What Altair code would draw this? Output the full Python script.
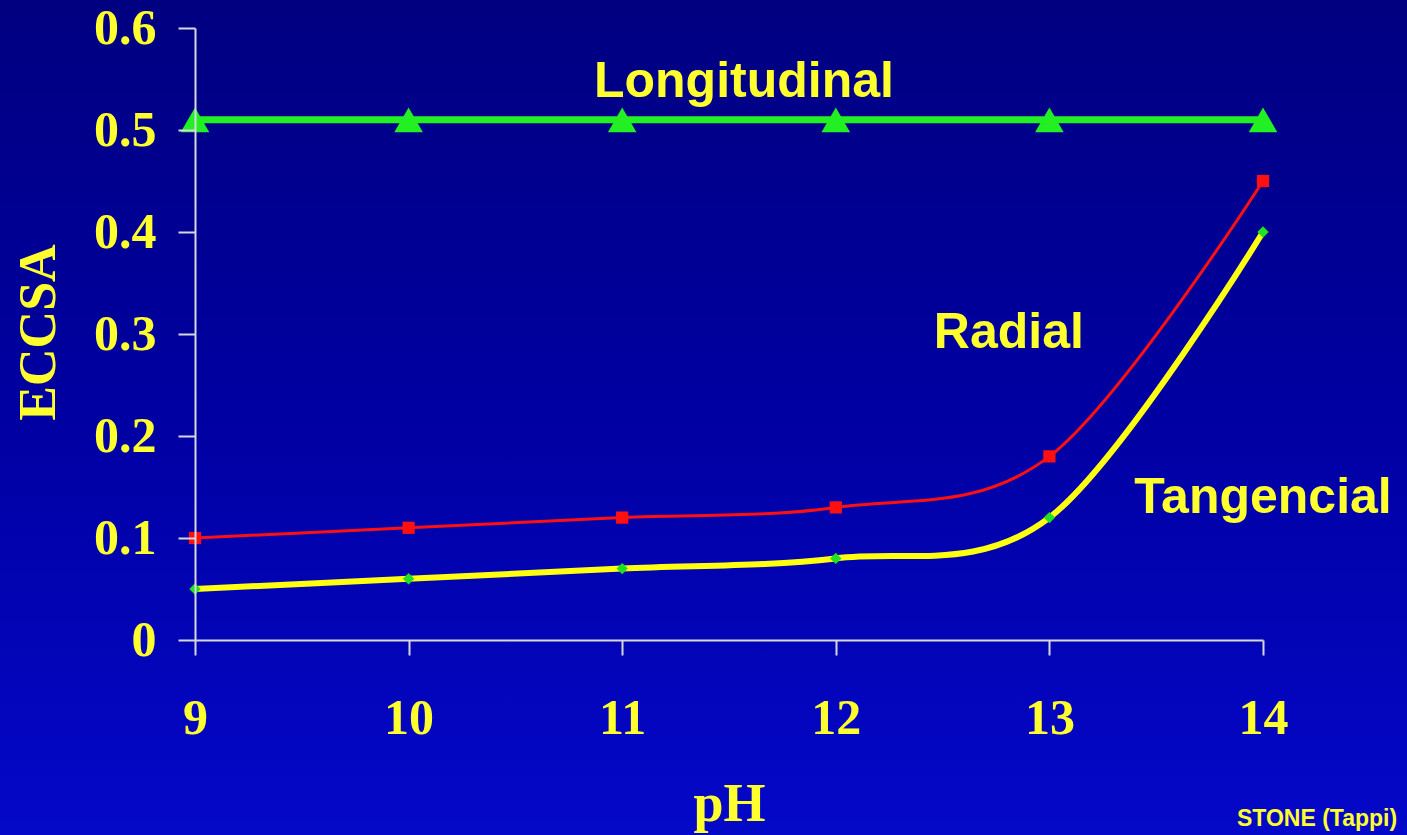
import altair as alt
import pandas as pd

# ---- data ----
ph = [9, 10, 11, 12, 13, 14]
longitudinal = [0.51, 0.51, 0.51, 0.51, 0.51, 0.51]
radial = [0.10, 0.11, 0.12, 0.13, 0.18, 0.45]
tangencial = [0.05, 0.06, 0.07, 0.08, 0.12, 0.40]

label_text = ["Longitudinal", "Radial", "Tangencial"]
label_x = [11.57, 12.81, 14.0]
label_y = [0.532, 0.286, 0.125]

y_ticks = [0, 0.1, 0.2, 0.3, 0.4, 0.5, 0.6]
x_ticks = [9, 10, 11, 12, 13, 14]

YELLOW = "#ffff2e"
AXIS = "#d8d8e0"

df_long = pd.DataFrame({"pH": ph, "v": longitudinal})
df_rad = pd.DataFrame({"pH": ph, "v": radial})
df_tan = pd.DataFrame({"pH": ph, "v": tangencial})
df_lab = pd.DataFrame({"t": label_text, "x": label_x, "y": label_y})
df_one = pd.DataFrame({"a": [0]})

W, H = 1068, 612
PL, PT, PR, PB = 195, 28, 144, 195

xs = alt.Scale(domain=[9, 14], nice=False)
ys = alt.Scale(domain=[0, 0.6], nice=False)

x_axis = alt.Axis(
    values=x_ticks, format="d", labelFlush=False, labelOverlap=False,
    tickSize=15, labelPadding=38, labelFontSize=50,
    labelFont="Liberation Serif", labelFontWeight="bold", labelColor=YELLOW,
    domainColor=AXIS, tickColor=AXIS, domainWidth=2, tickWidth=2, grid=False,
    title="pH", titleFont="Liberation Serif", titleFontWeight="bold",
    titleFontSize=54, titleColor=YELLOW, titleX=W / 2, titleY=792,
    titleBaseline="alphabetic", titleAlign="center", zindex=1,
)
# titleY above is replaced below (relative to axis group)
x_axis = x_axis.to_dict()
x_axis["titleY"] = 820 - PT - H
x_axis = alt.Axis(**x_axis)

y_axis = alt.Axis(
    values=y_ticks, labelFlush=False, labelOverlap=False,
    tickSize=17, labelPadding=22, labelFontSize=50,
    labelFont="Liberation Serif", labelFontWeight="bold", labelColor=YELLOW,
    labelExpr="datum.value == 0 ? '0' : format(datum.value, '.1f')",
    domainColor=AXIS, tickColor=AXIS, domainWidth=2, tickWidth=2, grid=False,
    title="ECCSA", titleFont="Liberation Serif", titleFontWeight="bold",
    titleFontSize=52, titleColor=YELLOW, titleX=-157, titleY=304,
    titleAngle=-90, titleAlign="center", titleBaseline="middle", zindex=1,
)

bg = alt.Chart(df_one).mark_rect(
    fill=alt.Gradient(
        gradient="linear",
        stops=[
            alt.GradientStop(color="#000080", offset=0),
            alt.GradientStop(color="#0000a2", offset=0.5),
            alt.GradientStop(color="#0408c8", offset=1),
        ],
        x1=0, x2=0, y1=0, y2=1,
    )
).encode(
    x=alt.value(-PL), x2=alt.value(W + PR), y=alt.value(-PT), y2=alt.value(H + PB)
)

base_long = alt.Chart(df_long).encode(
    x=alt.X("pH:Q", scale=xs, axis=x_axis),
    y=alt.Y("v:Q", scale=ys, axis=y_axis),
)
long_line = base_long.mark_line(color="#22f022", strokeWidth=7)
long_pts = base_long.mark_point(shape="triangle-up", filled=True, size=820,
                                color="#22f022", opacity=1)

base_rad = alt.Chart(df_rad).encode(x=alt.X("pH:Q", scale=xs), y=alt.Y("v:Q", scale=ys))
rad_line = base_rad.mark_line(color="#ff1010", strokeWidth=3, interpolate="cardinal", tension=0)
rad_pts = base_rad.mark_point(shape="square", filled=True, size=150, color="#ff1010", opacity=1)

base_tan = alt.Chart(df_tan).encode(x=alt.X("pH:Q", scale=xs), y=alt.Y("v:Q", scale=ys))
tan_line = base_tan.mark_line(color="#ffff10", strokeWidth=6, interpolate="cardinal", tension=0)
tan_pts = base_tan.mark_point(shape="diamond", filled=True, size=130, color="#22e022", opacity=1)

labels = alt.Chart(df_lab).mark_text(
    font="Liberation Sans", fontWeight="bold", fontSize=50, color=YELLOW,
    align="center", baseline="alphabetic",
).encode(x=alt.X("x:Q", scale=xs), y=alt.Y("y:Q", scale=ys), text="t:N")

credit = alt.Chart(df_one).mark_text(
    text="STONE (Tappi)", font="Liberation Sans", fontWeight="bold", fontSize=23,
    color=YELLOW, align="left", baseline="alphabetic",
).encode(x=alt.value(1237 - PL), y=alt.value(826 - PT))

chart = alt.layer(
    bg, rad_line, tan_line, long_line, long_pts, rad_pts, tan_pts, labels, credit
).properties(
    width=W, height=H,
    autosize=alt.AutoSizeParams(type="none"),
    padding={"left": PL, "top": PT, "right": PR, "bottom": PB},
    background="#000090",
).configure_view(stroke=None)

chart.save("out.html", embed_options={"renderer": "svg", "actions": False})
